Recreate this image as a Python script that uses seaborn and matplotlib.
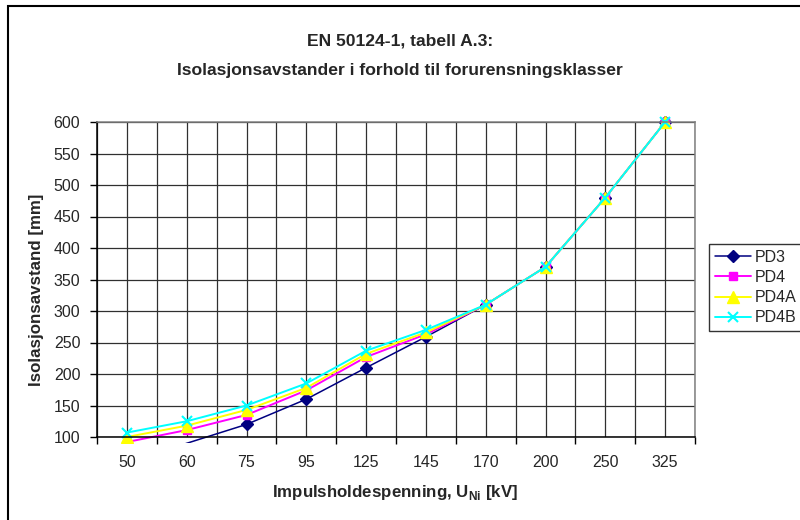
import matplotlib
matplotlib.use("Agg")
import matplotlib.pyplot as plt
import seaborn as sns
import numpy as np
import pandas as pd
from matplotlib.patches import Rectangle

categories = ['50', '60', '75', '95', '125', '145', '170', '200', '250', '325']
pd3 = [60, 90, 120, 160, 210, 259, 310, 370, 480, 600]
pd4 = [92, 111, 135, 174, 227, 263, 310, 370, 480, 600]
pd4a = [100, 118, 143, 178, 232, 266, 310, 370, 480, 600]
pd4b = [107, 125, 150, 185, 237, 270, 310, 370, 480, 600]
series_names = ['PD3', 'PD4', 'PD4A', 'PD4B']
y_ticks = [100, 150, 200, 250, 300, 350, 400, 450, 500, 550, 600]

sns.set_style('ticks')
plt.rcParams['font.family'] = ['Liberation Sans', 'DejaVu Sans']
plt.rcParams['mathtext.fontset'] = 'custom'
plt.rcParams['mathtext.rm'] = 'Liberation Sans'
plt.rcParams['mathtext.bf'] = 'Liberation Sans:bold'

fig = plt.figure(figsize=(8, 5.2), dpi=100)
W, H = 800, 520
ax = fig.add_axes([97 / W, 1 - 437 / H, (695 - 97) / W, (437 - 122) / H])

pos = np.arange(len(categories))
values = {'PD3': pd3, 'PD4': pd4, 'PD4A': pd4a, 'PD4B': pd4b}
df = pd.DataFrame({
    'pos': np.tile(pos, 4),
    'value': pd3 + pd4 + pd4a + pd4b,
    'series': np.repeat(series_names, len(categories)),
})
styles = {
    'PD3': dict(color='#000080', marker='D', ms=6, lw=1.1, mec='#000080'),
    'PD4': dict(color='#FF00FF', marker='s', ms=6, lw=1.4, mec='#FF00FF'),
    'PD4A': dict(color='#FFFF00', marker='^', ms=8, lw=1.4, mec='#FFFF00'),
    'PD4B': dict(color='#00FFFF', marker='x', ms=7, lw=1.4, mew=1.5, mec='#00FFFF'),
}
for name in series_names:
    sub = df[df['series'] == name]
    st = styles[name]
    sns.lineplot(data=sub, x='pos', y='value', ax=ax, label=name,
                 color=st['color'], marker=st['marker'], markersize=st['ms'],
                 linewidth=st['lw'], markeredgecolor=st['mec'],
                 markeredgewidth=st.get('mew', 1.0), estimator=None, sort=False)

ax.set_xlim(-0.5, len(categories) - 0.5)
ax.set_ylim(100, 600)
ax.set_yticks(y_ticks)
ax.set_yticklabels([str(v) for v in y_ticks], fontsize=11.5)
ax.set_xticks(np.arange(-0.5, len(categories), 1.0))
ax.set_xticklabels([])
ax.set_xticks(pos, minor=True)
ax.set_xticklabels(categories, minor=True, fontsize=11.5)
ax.tick_params(axis='x', which='minor', length=0, pad=13)
ax.tick_params(axis='x', which='major', length=5, width=1, color='black', direction='out')
ax.tick_params(axis='y', length=5, width=1, color='black', direction='out', pad=7)
ax.set_xlabel('')
ax.set_ylabel('')

ax.grid(True, which='both', axis='x', color='#303030', lw=0.9)
ax.grid(True, which='major', axis='y', color='#303030', lw=0.9)
ax.set_axisbelow(True)
for s in ['left', 'bottom']:
    ax.spines[s].set_color('black')
    ax.spines[s].set_linewidth(1.1)
for s in ['top', 'right']:
    ax.spines[s].set_color('#808080')
    ax.spines[s].set_linewidth(1.1)

fig.text(400 / W, 1 - 41 / H, 'EN 50124-1, tabell A.3:', ha='center', va='center',
         fontsize=12.6, fontweight='bold')
fig.text(400 / W, 1 - 70 / H, 'Isolasjonsavstander i forhold til forurensningsklasser',
         ha='center', va='center', fontsize=12.6, fontweight='bold')
fig.text(37 / W, 1 - 290 / H, 'Isolasjonsavstand [mm]', rotation=90, ha='center',
         va='center', fontsize=12.2, fontweight='bold')
fig.text(395 / W, 1 - 493 / H, r'Impulsholdespenning, U$_{\mathbf{Ni}}$ [kV]',
         ha='center', va='center', fontsize=12.2, fontweight='bold')

leg = ax.legend(loc='upper left', bbox_to_anchor=(709 / W, 1 - 244 / H),
                bbox_transform=fig.transFigure, fontsize=11.5, frameon=True,
                fancybox=False, handlelength=2.3, handletextpad=0.2,
                labelspacing=0.33, borderpad=0.35, borderaxespad=0)
leg.get_frame().set_edgecolor('black')
leg.get_frame().set_linewidth(1.0)

# Excel-like: lines clipped slightly below the axis, markers only for in-range points
clip = Rectangle((0, -0.02), 1, 1.04, transform=ax.transAxes)
ymin = y_ticks[0]
for ln, name in zip(ax.lines, series_names):
    ln.set_clip_path(clip)
    ln.set_markevery([i for i, v in enumerate(values[name]) if v >= ymin])

border = Rectangle((8 / W, -0.2), 1.2, 1.2 - 6 / H, transform=fig.transFigure,
                   fill=False, ec='black', lw=1.5, clip_on=False)
fig.patches.append(border)

fig.savefig('out.png', dpi=100)
